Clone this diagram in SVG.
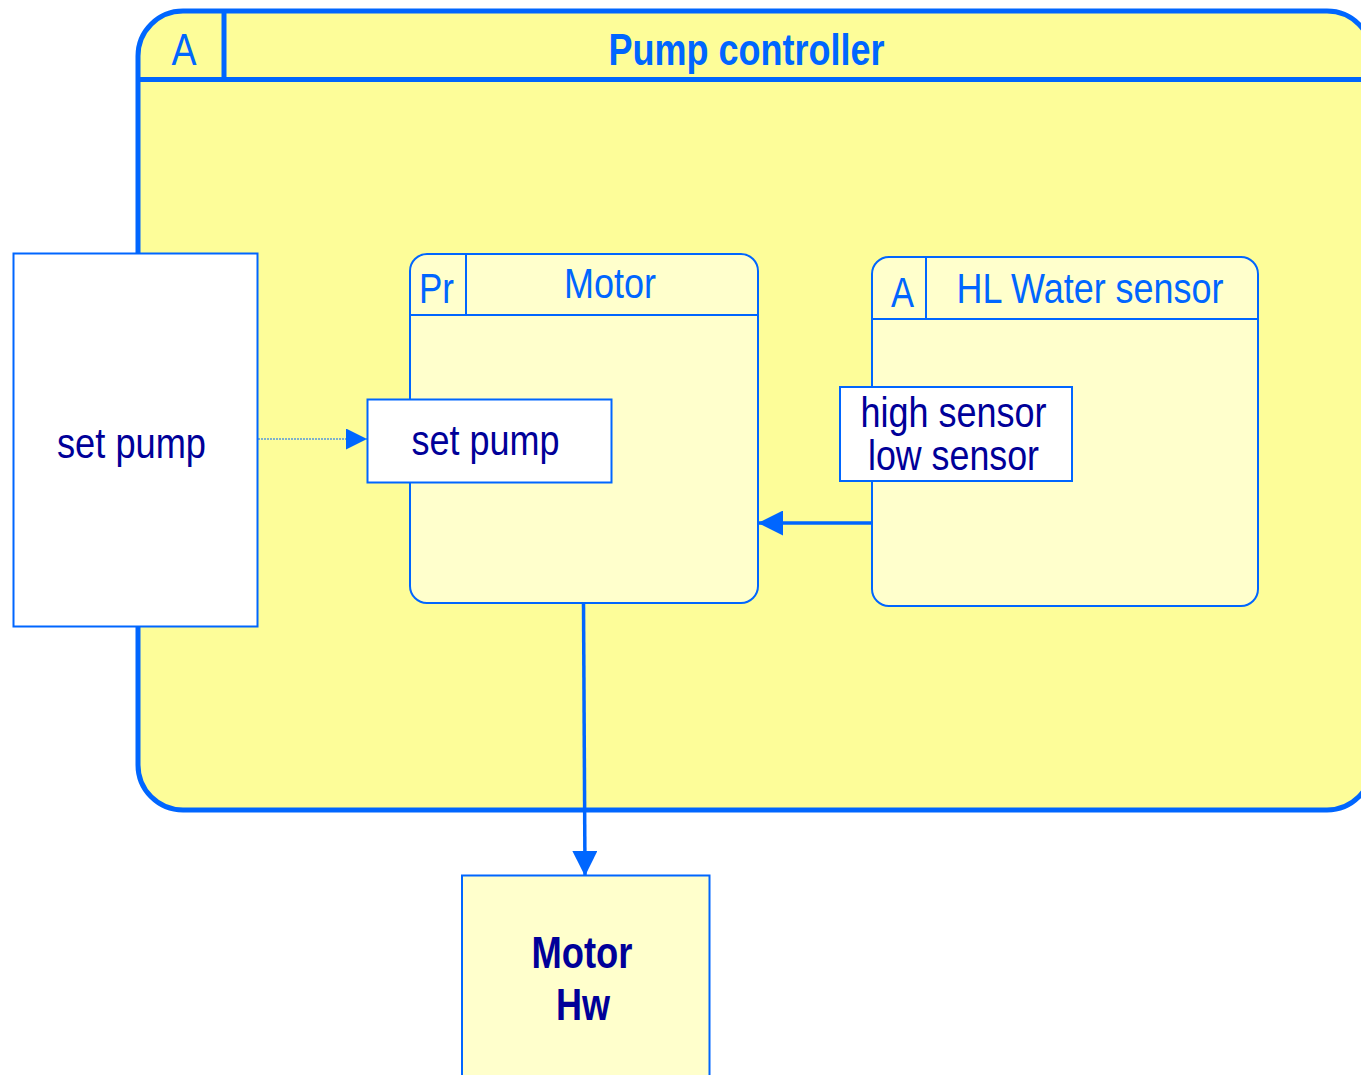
<svg xmlns="http://www.w3.org/2000/svg" width="1361" height="1075" viewBox="0 0 1361 1075">
  <style>
    .frame { fill: #FDFD99; stroke: #0066FF; stroke-width: 5; }
    .hdr { stroke: #0066FF; stroke-width: 5; fill: none; }
    .node { fill: #FFFFCC; stroke: #0066FF; stroke-width: 2; }
    .sep { stroke: #0066FF; stroke-width: 2; fill: none; }
    .port { fill: #FFFFFF; stroke: #0066FF; stroke-width: 2; }
    .lbl { font-family: "Liberation Sans Narrow", "Arial Narrow", "Liberation Sans", sans-serif; }
    .blue { fill: #0066FF; }
    .navy { fill: #000099; }
    .wire { stroke: #0066FF; stroke-width: 3.5; fill: none; }
    .dots { stroke: #0066FF; stroke-width: 1.2; stroke-dasharray: 2 1; fill: none; }
  </style>
  <defs>
    <marker id="head" viewBox="0 0 10 10" refX="10" refY="5" markerWidth="26" markerHeight="25" markerUnits="userSpaceOnUse" orient="auto">
      <path d="M0,0 L10,5 L0,10 Z" fill="#0066FF"/>
    </marker>
    <marker id="headThin" viewBox="0 0 10 10" refX="10" refY="5" markerWidth="23" markerHeight="21" markerUnits="userSpaceOnUse" orient="auto">
      <path d="M0,0 L10,5 L0,10 Z" fill="#0066FF"/>
    </marker>
  </defs>

  <!-- Pump controller activity chart -->
  <g id="pump-controller">
    <path class="frame" d="M138,56 A45,45 0 0 1 183,11 H1327 A45,45 0 0 1 1372,56 V765 A45,45 0 0 1 1327,810 H183 A45,45 0 0 1 138,765 Z"/>
    <line class="hdr" x1="138" y1="79.5" x2="1372" y2="79.5"/>
    <line class="hdr" x1="224" y1="11" x2="224" y2="79.5"/>
    <text class="lbl blue" x="184" y="65" font-size="44" text-anchor="middle" textLength="25" lengthAdjust="spacingAndGlyphs">A</text>
    <text class="lbl blue" x="746.5" y="65" font-size="44" font-weight="bold" text-anchor="middle" textLength="276" lengthAdjust="spacingAndGlyphs">Pump controller</text>
  </g>

  <!-- Motor process -->
  <g id="motor">
    <rect class="node" x="410" y="254" width="348" height="349" rx="17"/>
    <line class="sep" x1="410" y1="315" x2="758" y2="315"/>
    <line class="sep" x1="466" y1="254" x2="466" y2="315"/>
    <text class="lbl blue" x="436.5" y="303" font-size="42" text-anchor="middle" textLength="35" lengthAdjust="spacingAndGlyphs">Pr</text>
    <text class="lbl blue" x="610" y="298" font-size="43" text-anchor="middle" textLength="92" lengthAdjust="spacingAndGlyphs">Motor</text>
  </g>

  <!-- HL Water sensor activity -->
  <g id="hl-water-sensor">
    <rect class="node" x="872" y="257" width="386" height="349" rx="17"/>
    <line class="sep" x1="872" y1="319" x2="1258" y2="319"/>
    <line class="sep" x1="926" y1="257" x2="926" y2="319"/>
    <text class="lbl blue" x="902.5" y="307" font-size="42" text-anchor="middle" textLength="23" lengthAdjust="spacingAndGlyphs">A</text>
    <text class="lbl blue" x="1090" y="303" font-size="42" text-anchor="middle" textLength="267" lengthAdjust="spacingAndGlyphs">HL Water sensor</text>
  </g>

  <!-- External set pump input -->
  <g id="set-pump-ext">
    <rect class="port" x="13.5" y="253.5" width="244" height="373"/>
    <text class="lbl navy" x="131.5" y="458" font-size="43" text-anchor="middle" textLength="149" lengthAdjust="spacingAndGlyphs">set pump</text>
  </g>

  <!-- set pump port on Motor -->
  <g id="set-pump-port">
    <rect class="port" x="367.5" y="399.5" width="244" height="83"/>
    <text class="lbl navy" x="485.5" y="455" font-size="43" text-anchor="middle" textLength="148" lengthAdjust="spacingAndGlyphs">set pump</text>
  </g>

  <!-- sensor outputs on HL Water sensor -->
  <g id="sensor-port">
    <rect class="port" x="840" y="387" width="232" height="94"/>
    <text class="lbl navy" x="953.5" y="427" font-size="42" text-anchor="middle" textLength="186" lengthAdjust="spacingAndGlyphs">high sensor</text>
    <text class="lbl navy" x="953.5" y="470" font-size="42" text-anchor="middle" textLength="171" lengthAdjust="spacingAndGlyphs">low sensor</text>
  </g>

  <!-- Motor hardware -->
  <g id="motor-hw">
    <rect class="node" x="462" y="875.5" width="247.5" height="220"/>
    <text class="lbl navy" x="582" y="968" font-size="44" font-weight="bold" text-anchor="middle" textLength="101" lengthAdjust="spacingAndGlyphs">Motor</text>
    <text class="lbl navy" x="583" y="1020" font-size="44" font-weight="bold" text-anchor="middle" textLength="54" lengthAdjust="spacingAndGlyphs">Hw</text>
  </g>

  <!-- Connectors -->
  <g id="connectors">
    <line class="dots" x1="258" y1="439" x2="367" y2="439" marker-end="url(#headThin)"/>
    <line class="wire" x1="872" y1="523" x2="758" y2="523" marker-end="url(#head)"/>
    <line class="wire" x1="583.5" y1="602" x2="585" y2="876" marker-end="url(#head)"/>
  </g>
</svg>
